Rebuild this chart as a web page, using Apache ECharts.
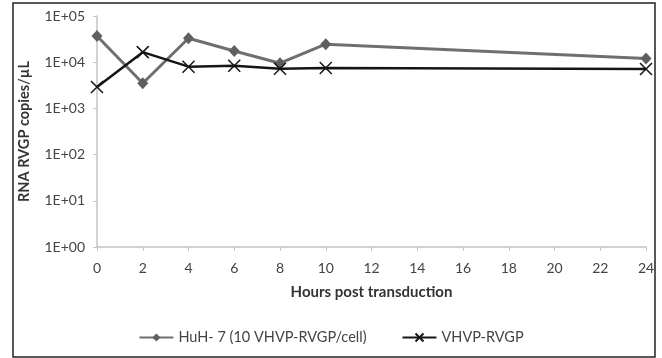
<!DOCTYPE html>
<html>
<head>
<meta charset="utf-8">
<script src="https://cdn.jsdelivr.net/npm/echarts@6/dist/echarts.min.js"></script>
<style>
html,body{margin:0;padding:0;background:#fff;}
#chart{width:662px;height:358px;}
</style>
</head>
<body>
<div id="chart"></div>
<script>
const hours = [0, 2, 4, 6, 8, 10, 24];
const huh7Values = [37000, 3500, 33000, 17500, 9500, 24500, 12000];
const vhvpValues = [2900, 16500, 8000, 8400, 7200, 7500, 7100];
const seriesNames = ['HuH- 7 (10 VHVP-RVGP/cell)', 'VHVP-RVGP'];
const xTicks = [0, 2, 4, 6, 8, 10, 12, 14, 16, 18, 20, 22, 24];
const yTickLabels = ['1E+00', '1E+01', '1E+02', '1E+03', '1E+04', '1E+05'];

const FONT = 'Lato, "Open Sans", "Liberation Sans", sans-serif';
const chart = echarts.init(document.getElementById('chart'), null, {renderer: 'canvas'});
const xPath = 'path://M0,0L10,10M10,0L0,10';

chart.setOption({
  animation: false,
  backgroundColor: '#fff',
  textStyle: {fontFamily: FONT},
  graphic: [{
    type: 'rect',
    shape: {x: 13, y: 3, width: 642, height: 354},
    style: {fill: 'none', stroke: '#222', lineWidth: 1.5},
    silent: true
  }],
  grid: {left: 97, right: 16, top: 16, bottom: 111, containLabel: false},
  xAxis: {
    type: 'value',
    min: xTicks[0],
    max: xTicks[xTicks.length - 1],
    interval: 2,
    name: 'Hours post transduction',
    nameLocation: 'middle',
    nameGap: 38,
    nameTextStyle: {fontWeight: 'bold', fontSize: 15, color: '#333', fontFamily: FONT},
    axisLine: {lineStyle: {color: '#c4c4c4', width: 1.5}},
    axisTick: {show: true, length: 4, lineStyle: {color: '#c4c4c4'}},
    axisLabel: {fontSize: 14, color: '#444', margin: 14, fontFamily: FONT},
    splitLine: {show: false}
  },
  yAxis: {
    type: 'log',
    logBase: 10,
    min: 1,
    max: 100000,
    name: 'RNA RVGP copies/µL',
    nameLocation: 'middle',
    nameGap: 65,
    nameRotate: 90,
    nameTextStyle: {fontWeight: 'bold', fontSize: 14.5, color: '#333', fontFamily: FONT},
    axisLine: {show: true, lineStyle: {color: '#c4c4c4', width: 1.5}},
    axisTick: {show: true, length: 4, lineStyle: {color: '#c4c4c4'}},
    axisLabel: {
      fontSize: 14, color: '#444', margin: 12, fontFamily: FONT,
      formatter: function (v) {
        const e = Math.round(Math.log10(v));
        return yTickLabels[e] !== undefined ? yTickLabels[e] : '';
      }
    },
    splitLine: {show: false}
  },
  legend: {
    bottom: 8,
    left: 'center',
    itemWidth: 34,
    itemHeight: 10,
    itemGap: 35,
    textStyle: {fontSize: 14.5, color: '#444', fontFamily: FONT},
    data: seriesNames
  },
  series: [
    {
      name: seriesNames[0],
      type: 'line',
      data: hours.map((h, i) => [h, huh7Values[i]]),
      symbol: 'diamond',
      symbolSize: [11, 12],
      lineStyle: {color: '#6f6f6f', width: 3},
      itemStyle: {color: '#5f5f5f'},
      z: 2
    },
    {
      name: seriesNames[1],
      type: 'line',
      data: hours.map((h, i) => [h, vhvpValues[i]]),
      symbol: xPath,
      symbolSize: 12,
      lineStyle: {color: '#151515', width: 2.5},
      itemStyle: {color: '#151515', borderColor: '#151515', borderWidth: 1.5},
      z: 3
    }
  ]
});
</script>
</body>
</html>
